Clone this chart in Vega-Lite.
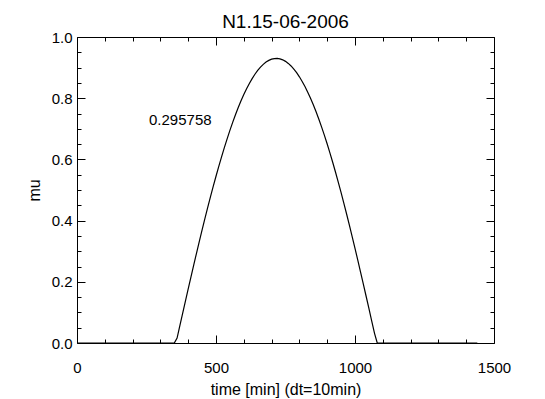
{
  "$schema": "https://vega.github.io/schema/vega-lite/v6.json",
  "width": 417,
  "height": 306,
  "autosize": {"type": "none"},
  "padding": {"left": 77, "top": 37, "right": 51, "bottom": 56},
  "background": "white",
  "title": {"text": "N1.15-06-2006", "fontSize": 19, "fontWeight": "normal", "font": "Liberation Sans", "color": "black", "anchor": "middle", "baseline": "bottom", "offset": 7, "frame": "group", "dy": 28},
  "config": {
    "view": {"stroke": null},
    "axis": {"domainColor": "black", "tickColor": "black", "labelColor": "black", "titleColor": "black", "labelFont": "Liberation Sans", "titleFont": "Liberation Sans", "grid": false, "domainWidth": 1, "tickWidth": 1, "titleFontWeight": "normal", "minExtent": 0, "maxExtent": 0}
  },
  "data": {"values": [
    {"t": 0, "mu": 0}, {"t": 350, "mu": 0}, {"t": 360, "mu": 0.0161}, {"t": 370, "mu": 0.0565}, {"t": 380, "mu": 0.0968}, {"t": 390, "mu": 0.1369},
    {"t": 400, "mu": 0.1767}, {"t": 410, "mu": 0.2162}, {"t": 420, "mu": 0.2554}, {"t": 430, "mu": 0.2940}, {"t": 440, "mu": 0.3321},
    {"t": 450, "mu": 0.3695}, {"t": 460, "mu": 0.4063}, {"t": 470, "mu": 0.4423}, {"t": 480, "mu": 0.4775}, {"t": 490, "mu": 0.5117},
    {"t": 500, "mu": 0.5450}, {"t": 510, "mu": 0.5773}, {"t": 520, "mu": 0.6085}, {"t": 530, "mu": 0.6385}, {"t": 540, "mu": 0.6673},
    {"t": 550, "mu": 0.6949}, {"t": 560, "mu": 0.7211}, {"t": 570, "mu": 0.7460}, {"t": 580, "mu": 0.7694}, {"t": 590, "mu": 0.7914},
    {"t": 600, "mu": 0.8119}, {"t": 610, "mu": 0.8309}, {"t": 620, "mu": 0.8483}, {"t": 630, "mu": 0.8641}, {"t": 640, "mu": 0.8782},
    {"t": 650, "mu": 0.8907}, {"t": 660, "mu": 0.9015}, {"t": 670, "mu": 0.9106}, {"t": 680, "mu": 0.9180}, {"t": 690, "mu": 0.9236},
    {"t": 700, "mu": 0.9275}, {"t": 710, "mu": 0.9296}, {"t": 720, "mu": 0.9299}, {"t": 730, "mu": 0.9285}, {"t": 740, "mu": 0.9254},
    {"t": 750, "mu": 0.9204}, {"t": 760, "mu": 0.9137}, {"t": 770, "mu": 0.9054}, {"t": 780, "mu": 0.8952}, {"t": 790, "mu": 0.8834},
    {"t": 800, "mu": 0.8699}, {"t": 810, "mu": 0.8548}, {"t": 820, "mu": 0.8380}, {"t": 830, "mu": 0.8197}, {"t": 840, "mu": 0.7998},
    {"t": 850, "mu": 0.7784}, {"t": 860, "mu": 0.7555}, {"t": 870, "mu": 0.7312}, {"t": 880, "mu": 0.7055}, {"t": 890, "mu": 0.6785},
    {"t": 900, "mu": 0.6502}, {"t": 910, "mu": 0.6206}, {"t": 920, "mu": 0.5899}, {"t": 930, "mu": 0.5580}, {"t": 940, "mu": 0.5252},
    {"t": 950, "mu": 0.4913}, {"t": 960, "mu": 0.4565}, {"t": 970, "mu": 0.4208}, {"t": 980, "mu": 0.3843}, {"t": 990, "mu": 0.3471},
    {"t": 1000, "mu": 0.3093}, {"t": 1010, "mu": 0.2709}, {"t": 1020, "mu": 0.2319}, {"t": 1030, "mu": 0.1926}, {"t": 1040, "mu": 0.1528},
    {"t": 1050, "mu": 0.1128}, {"t": 1060, "mu": 0.0726}, {"t": 1070, "mu": 0.0323}, {"t": 1080, "mu": 0}, {"t": 1440, "mu": 0}
  ]},
  "resolve": {"axis": {"x": "independent", "y": "independent"}},
  "layer": [
    {
      "mark": {"type": "line", "color": "black", "strokeWidth": 1.2, "clip": true},
      "encoding": {
        "x": {"field": "t", "type": "quantitative", "scale": {"domain": [0, 1500], "nice": false, "zero": false},
          "axis": {"orient": "bottom", "values": [0, 500, 1000, 1500], "format": "d", "ticks": false, "labelPadding": 17, "labelFontSize": 15, "labelFlush": false, "labelOverlap": false, "title": "time [min] (dt=10min)", "titleFontSize": 16, "titleY": 51, "titleBaseline": "alphabetic"}},
        "y": {"field": "mu", "type": "quantitative", "scale": {"domain": [0, 1], "nice": false, "zero": false},
          "axis": {"orient": "left", "values": [0, 0.2, 0.4, 0.6, 0.8, 1.0], "format": ".1f", "ticks": false, "labelPadding": 5, "labelFontSize": 15, "labelFlush": false, "labelOverlap": false, "title": "mu", "titleFontSize": 16, "titleX": -38, "titleBaseline": "alphabetic"}}
      }
    },
    {
      "data": {"values": [{"t": 259, "mu": 0.729, "label": "0.295758"}]},
      "mark": {"type": "text", "align": "left", "baseline": "middle", "font": "Liberation Sans", "fontSize": 15, "color": "black"},
      "encoding": {
        "x": {"field": "t", "type": "quantitative", "scale": {"domain": [0, 1500], "nice": false, "zero": false},
          "axis": {"orient": "bottom", "values": [0, 500, 1000, 1500], "tickSize": -8, "labels": false, "domain": false, "title": null}},
        "y": {"field": "mu", "type": "quantitative", "scale": {"domain": [0, 1], "nice": false, "zero": false},
          "axis": {"orient": "left", "values": [0, 0.2, 0.4, 0.6, 0.8, 1.0], "tickSize": -8, "labels": false, "domain": false, "title": null}},
        "text": {"field": "label", "type": "nominal"}
      }
    },
    {
      "mark": {"type": "line", "opacity": 0},
      "encoding": {
        "x": {"field": "t", "type": "quantitative", "scale": {"domain": [0, 1500], "nice": false, "zero": false},
          "axis": {"orient": "bottom", "values": [100, 200, 300, 400, 600, 700, 800, 900, 1100, 1200, 1300, 1400], "tickSize": -4, "labels": false, "domain": false, "title": null}},
        "y": {"field": "mu", "type": "quantitative", "scale": {"domain": [0, 1], "nice": false, "zero": false},
          "axis": {"orient": "left", "values": [0.05, 0.1, 0.15, 0.25, 0.3, 0.35, 0.45, 0.5, 0.55, 0.65, 0.7, 0.75, 0.85, 0.9, 0.95], "tickSize": -4, "labels": false, "domain": false, "title": null}}
      }
    },
    {
      "mark": {"type": "line", "opacity": 0},
      "encoding": {
        "x": {"field": "t", "type": "quantitative", "scale": {"domain": [0, 1500], "nice": false, "zero": false},
          "axis": {"orient": "top", "values": [0, 500, 1000, 1500], "tickSize": -8, "labels": false, "domain": true, "title": null}},
        "y": {"field": "mu", "type": "quantitative", "scale": {"domain": [0, 1], "nice": false, "zero": false},
          "axis": {"orient": "right", "values": [0, 0.2, 0.4, 0.6, 0.8, 1.0], "tickSize": -8, "labels": false, "domain": true, "title": null}}
      }
    },
    {
      "mark": {"type": "line", "opacity": 0},
      "encoding": {
        "x": {"field": "t", "type": "quantitative", "scale": {"domain": [0, 1500], "nice": false, "zero": false},
          "axis": {"orient": "top", "values": [100, 200, 300, 400, 600, 700, 800, 900, 1100, 1200, 1300, 1400], "tickSize": -4, "labels": false, "domain": false, "title": null}},
        "y": {"field": "mu", "type": "quantitative", "scale": {"domain": [0, 1], "nice": false, "zero": false},
          "axis": {"orient": "right", "values": [0.05, 0.1, 0.15, 0.25, 0.3, 0.35, 0.45, 0.5, 0.55, 0.65, 0.7, 0.75, 0.85, 0.9, 0.95], "tickSize": -4, "labels": false, "domain": false, "title": null}}
      }
    }
  ]
}
